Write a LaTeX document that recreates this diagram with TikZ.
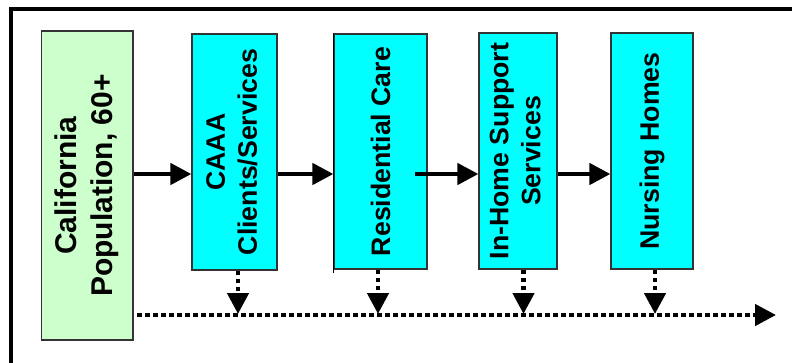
\documentclass[tikz,border=0pt]{standalone}
\usepackage{fontspec}
\setmainfont{Liberation Sans}
\usetikzlibrary{arrows.meta,calc}
\definecolor{boxgreen}{HTML}{CCFFCC}
\definecolor{boxcyan}{HTML}{00FFFF}
\definecolor{boxline}{HTML}{333333}
\begin{document}
\begin{tikzpicture}[x=1pt,y=-1pt,
  stage/.style={draw=boxline, line width=1.2pt, fill=boxcyan, inner sep=0pt,
    font=\bfseries\fontsize{26.7}{32}\selectfont},
  source/.style={stage, fill=boxgreen, font=\bfseries\fontsize{30}{36}\selectfont},
  flow/.style={line width=4.5pt, -{Triangle[length=21pt,width=21pt]}},
  dflow/.style={line width=4.5pt, dash pattern=on 4.5pt off 3.5pt, -{Triangle[length=21pt,width=21pt]}}]
\useasboundingbox (0,0) rectangle (792,362);
\fill[white] (0,0) rectangle (792,362);
% frame
\draw[line width=3.5pt] (11,364) -- (11,9) -- (794,9);
% boxes
\node[source, minimum width=91.5pt, minimum height=309pt] (cal) at (87.25,185.5)
  {\rotatebox{90}{\begin{tabular}{@{}c@{}}California\\Population, 60+\end{tabular}}};
\node[stage, minimum width=85pt, minimum height=236pt] (caaa) at (234.5,152)
  {\rotatebox{90}{\begin{tabular}{@{}c@{}}CAAA\\Clients/Services\end{tabular}}};
\node[stage, minimum width=93pt, minimum height=235pt] (res) at (380.5,151.5)
  {\rotatebox{90}{Residential Care}};
\node[stage, minimum width=78pt, minimum height=236pt] (inh) at (518,151)
  {\rotatebox{90}{\begin{tabular}{@{}c@{}}In-Home Support\\Services\end{tabular}}};
\node[stage, minimum width=82pt, minimum height=236pt] (nur) at (652,151)
  {\rotatebox{90}{Nursing Homes}};
\draw[line width=1.6pt] (res.north west) -- ($(res.south west)+(0,3)$);
% solid arrows
\coordinate (ay) at (0,174);
\draw[flow] (cal.east |- ay) -- (caaa.west |- ay);
\draw[flow] (caaa.east |- ay) -- (res.west |- ay);
\draw[flow] ($(res.east |- ay)+(-13,0)$) -- (inh.west |- ay);
\draw[flow] (inh.east |- ay) -- (nur.west |- ay);
% dotted line and drops
\coordinate (ds) at (137,315);
\coordinate (de) at (776,315);
\draw[dflow] (ds) -- (de);
\coordinate (t1) at (238,314);
\coordinate (t2) at (378,314);
\coordinate (t3) at (523.5,314);
\coordinate (t4) at (655,314);
\draw[dflow] (caaa.south -| t1) -- (t1);
\draw[dflow] (res.south -| t2) -- (t2);
\draw[dflow] (inh.south -| t3) -- (t3);
\draw[dflow] (nur.south -| t4) -- (t4);
\end{tikzpicture}
\end{document}
